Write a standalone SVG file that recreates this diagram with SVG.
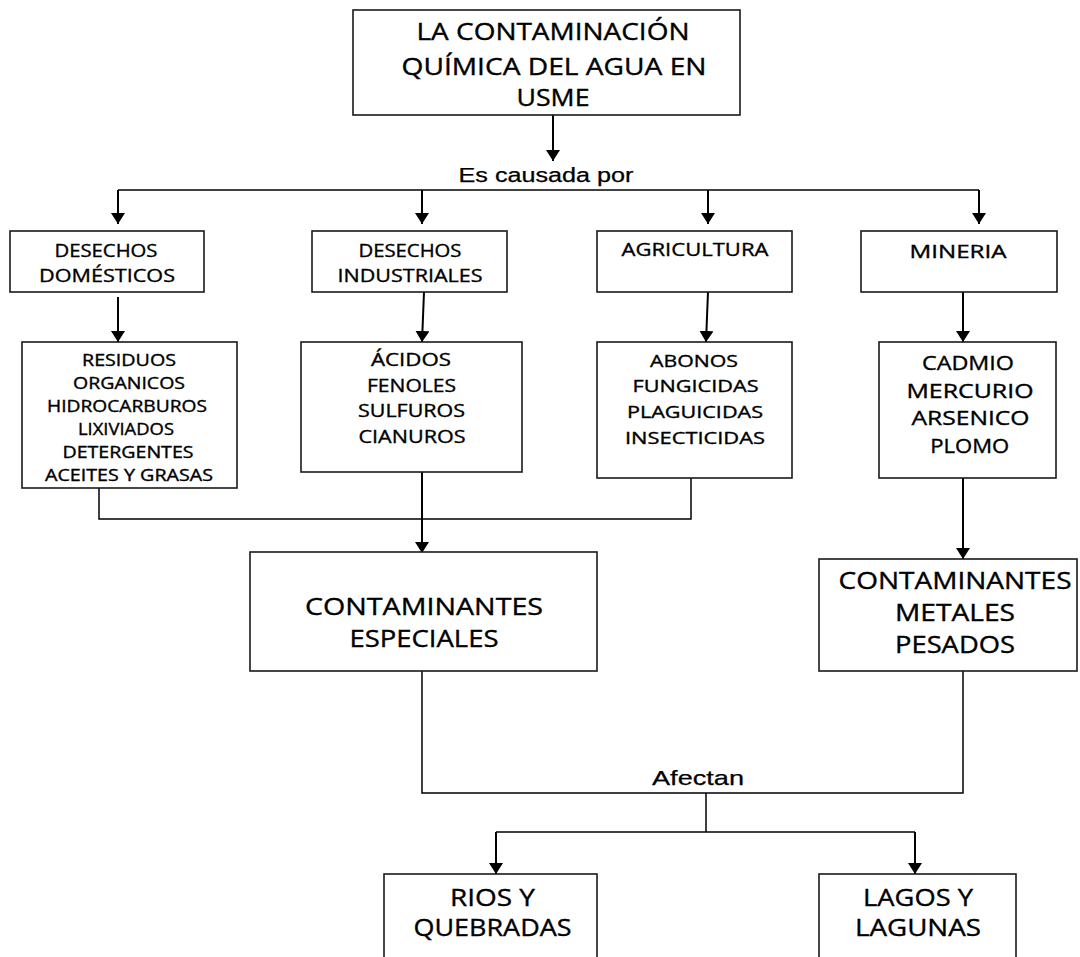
<svg xmlns="http://www.w3.org/2000/svg" width="1080" height="957" viewBox="0 0 1080 957">
  <style>
    .box { fill: #ffffff; stroke: #1a1a1a; stroke-width: 1.6; }
    .t { font-family: "Open Sans", "Liberation Sans", sans-serif; fill: #000; stroke: #000; stroke-width: 0.35; text-anchor: middle; }
    .lbl { font-family: "Liberation Sans", Arial, sans-serif; fill: #000; stroke: #000; stroke-width: 0.25; text-anchor: middle; }
    .arrow { fill: none; stroke: #000; stroke-width: 2; marker-end: url(#ah); }
    .line { fill: none; stroke: #000; stroke-width: 1.5; }
  </style>
  <defs>
    <marker id="ah" viewBox="0 0 11 14" markerWidth="11" markerHeight="14" refX="11" refY="7" orient="auto" markerUnits="userSpaceOnUse">
      <path d="M0,0 L11,7 L0,14 Z" fill="#000"/>
    </marker>
  </defs>
  <rect width="1080" height="957" fill="#ffffff"/>

  <!-- connectors -->
  <g id="connectors">
    <path class="arrow" d="M553,115 V161"/>
    <path class="line" d="M118,190 H979"/>
    <path class="arrow" d="M118,190 V224"/>
    <path class="arrow" d="M422,190 V224"/>
    <path class="arrow" d="M708,190 V224"/>
    <path class="arrow" d="M979,190 V224"/>
    <path class="arrow" d="M118,297 V342"/>
    <path class="arrow" d="M424,292 L422,342"/>
    <path class="arrow" d="M708,292 L706,342"/>
    <path class="arrow" d="M963,292 V342"/>
    <path class="line" d="M99,488 V519 H691 V478"/>
    <path class="arrow" d="M422,472 V553"/>
    <path class="arrow" d="M963,478 V559"/>
    <path class="line" d="M422,671 V793 H963 V671"/>
    <path class="line" d="M706,793 V832"/>
    <path class="line" d="M496,832 H915"/>
    <path class="arrow" d="M496,832 V874"/>
    <path class="arrow" d="M915,832 V874"/>
  </g>

  <!-- connector labels -->
  <g id="labels">
    <text class="lbl" x="546" y="182" font-size="20" textLength="175" lengthAdjust="spacingAndGlyphs">Es causada por</text>
    <text class="lbl" x="698" y="785" font-size="21" textLength="92" lengthAdjust="spacingAndGlyphs">Afectan</text>
  </g>

  <g id="title">
    <rect class="box" x="353" y="10" width="387" height="105"/>
    <text class="t" x="553" y="40" font-size="23" textLength="273" lengthAdjust="spacingAndGlyphs">LA CONTAMINACIÓN</text>
    <text class="t" x="554" y="75" font-size="23" textLength="305" lengthAdjust="spacingAndGlyphs">QUÍMICA DEL AGUA EN</text>
    <text class="t" x="553" y="106" font-size="23" textLength="73" lengthAdjust="spacingAndGlyphs">USME</text>
  </g>

  <g id="desechos-domesticos">
    <rect class="box" x="10" y="231" width="194" height="61"/>
    <text class="t" x="106" y="256.5" font-size="19" textLength="103" lengthAdjust="spacingAndGlyphs">DESECHOS</text>
    <text class="t" x="107" y="282" font-size="19" textLength="136" lengthAdjust="spacingAndGlyphs">DOMÉSTICOS</text>
  </g>

  <g id="desechos-industriales">
    <rect class="box" x="312" y="231" width="195" height="61"/>
    <text class="t" x="410" y="256.5" font-size="19" textLength="103" lengthAdjust="spacingAndGlyphs">DESECHOS</text>
    <text class="t" x="410" y="281.5" font-size="19" textLength="145" lengthAdjust="spacingAndGlyphs">INDUSTRIALES</text>
  </g>

  <g id="agricultura">
    <rect class="box" x="597" y="231" width="195" height="61"/>
    <text class="t" x="695" y="255.5" font-size="19" textLength="147" lengthAdjust="spacingAndGlyphs">AGRICULTURA</text>
  </g>

  <g id="mineria">
    <rect class="box" x="861" y="231" width="196" height="61"/>
    <text class="t" x="958" y="257.5" font-size="19" textLength="97" lengthAdjust="spacingAndGlyphs">MINERIA</text>
  </g>

  <g id="residuos">
    <rect class="box" x="22" y="342" width="215" height="146"/>
    <text class="t" x="129" y="365.5" font-size="15.5" textLength="94" lengthAdjust="spacingAndGlyphs">RESIDUOS</text>
    <text class="t" x="129" y="388.8" font-size="15.5" textLength="112" lengthAdjust="spacingAndGlyphs">ORGANICOS</text>
    <text class="t" x="127" y="411.5" font-size="15.5" textLength="160" lengthAdjust="spacingAndGlyphs">HIDROCARBUROS</text>
    <text class="t" x="126" y="434.5" font-size="15.5" textLength="96" lengthAdjust="spacingAndGlyphs">LIXIVIADOS</text>
    <text class="t" x="128" y="457.8" font-size="15.5" textLength="131" lengthAdjust="spacingAndGlyphs">DETERGENTES</text>
    <text class="t" x="129" y="481" font-size="15.5" textLength="168" lengthAdjust="spacingAndGlyphs">ACEITES Y GRASAS</text>
  </g>

  <g id="acidos">
    <rect class="box" x="301" y="342" width="221" height="130"/>
    <text class="t" x="411" y="366" font-size="18" textLength="80" lengthAdjust="spacingAndGlyphs">ÁCIDOS</text>
    <text class="t" x="411.5" y="391.5" font-size="18" textLength="89" lengthAdjust="spacingAndGlyphs">FENOLES</text>
    <text class="t" x="411.5" y="417" font-size="18" textLength="107" lengthAdjust="spacingAndGlyphs">SULFUROS</text>
    <text class="t" x="412" y="443" font-size="18" textLength="107" lengthAdjust="spacingAndGlyphs">CIANUROS</text>
  </g>

  <g id="abonos">
    <rect class="box" x="597" y="342" width="195" height="136"/>
    <text class="t" x="694" y="366.5" font-size="17" textLength="88" lengthAdjust="spacingAndGlyphs">ABONOS</text>
    <text class="t" x="695.5" y="392" font-size="17" textLength="126" lengthAdjust="spacingAndGlyphs">FUNGICIDAS</text>
    <text class="t" x="695" y="418" font-size="17" textLength="136" lengthAdjust="spacingAndGlyphs">PLAGUICIDAS</text>
    <text class="t" x="695" y="443.5" font-size="17" textLength="140" lengthAdjust="spacingAndGlyphs">INSECTICIDAS</text>
  </g>

  <g id="cadmio">
    <rect class="box" x="879" y="342" width="177" height="136"/>
    <text class="t" x="968" y="369.5" font-size="19.5" textLength="92" lengthAdjust="spacingAndGlyphs">CADMIO</text>
    <text class="t" x="970" y="397.5" font-size="19.5" textLength="127" lengthAdjust="spacingAndGlyphs">MERCURIO</text>
    <text class="t" x="970.5" y="425.3" font-size="19.5" textLength="118" lengthAdjust="spacingAndGlyphs">ARSENICO</text>
    <text class="t" x="969.7" y="453" font-size="19.5" textLength="79" lengthAdjust="spacingAndGlyphs">PLOMO</text>
  </g>

  <g id="contaminantes-especiales">
    <rect class="box" x="250" y="552" width="347" height="119"/>
    <text class="t" x="424" y="614.5" font-size="24" textLength="238" lengthAdjust="spacingAndGlyphs">CONTAMINANTES</text>
    <text class="t" x="424" y="647" font-size="24" textLength="149" lengthAdjust="spacingAndGlyphs">ESPECIALES</text>
  </g>

  <g id="contaminantes-metales">
    <rect class="box" x="819" y="559" width="258" height="112"/>
    <text class="t" x="955" y="588.5" font-size="23.5" textLength="233" lengthAdjust="spacingAndGlyphs">CONTAMINANTES</text>
    <text class="t" x="955" y="621.3" font-size="23.5" textLength="120" lengthAdjust="spacingAndGlyphs">METALES</text>
    <text class="t" x="955" y="653" font-size="23.5" textLength="120" lengthAdjust="spacingAndGlyphs">PESADOS</text>
  </g>

  <g id="rios">
    <rect class="box" x="384" y="874" width="213" height="100"/>
    <text class="t" x="492.5" y="905.5" font-size="23.5" textLength="85" lengthAdjust="spacingAndGlyphs">RIOS Y</text>
    <text class="t" x="492.5" y="936" font-size="23.5" textLength="158" lengthAdjust="spacingAndGlyphs">QUEBRADAS</text>
  </g>

  <g id="lagos">
    <rect class="box" x="819" y="874" width="197" height="100"/>
    <text class="t" x="918" y="905.5" font-size="23.5" textLength="110" lengthAdjust="spacingAndGlyphs">LAGOS Y</text>
    <text class="t" x="918" y="936.3" font-size="23.5" textLength="126" lengthAdjust="spacingAndGlyphs">LAGUNAS</text>
  </g>
</svg>
